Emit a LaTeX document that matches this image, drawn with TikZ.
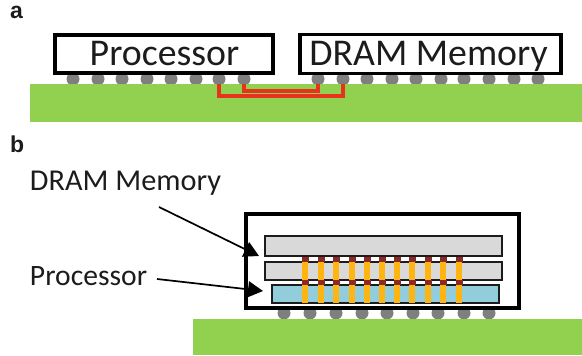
\documentclass[tikz,border=0pt]{standalone}
\usepackage{fontspec}
\setmainfont{Carlito}
\newfontfamily\labelfont{Liberation Sans}
\usetikzlibrary{arrows.meta}
\definecolor{boardgreen}{HTML}{92D050}
\definecolor{bumpgray}{HTML}{7F7F7F}
\definecolor{wirered}{HTML}{E5331F}
\definecolor{diegray}{HTML}{D9D9D9}
\definecolor{dieblue}{HTML}{92CDDC}
\definecolor{tsvorange}{HTML}{FFB511}
\definecolor{ubumpred}{HTML}{8C2A2A}
\definecolor{inkdark}{HTML}{1C1C1C}
\tikzset{
  every node/.style={inner sep=0pt,outer sep=0pt},
  board/.style={fill=boardgreen,draw=none,anchor=north west},
  bump/.style={circle,fill=bumpgray,draw=none,minimum size=13pt},
  pkg/.style={draw=black,fill=white,line width=3.2pt,anchor=north west},
  die/.style={draw=inkdark,fill=diegray,line width=2pt,anchor=north west},
  logicdie/.style={draw=inkdark,fill=dieblue,line width=2pt,anchor=north west},
  wire/.style={draw=wirered,line width=3.2pt,line join=miter},
  ptr/.style={draw=black,line width=1.7pt,-{Triangle[length=15pt,width=16pt]}},
  panel/.style={font=\labelfont\bfseries\fontsize{23}{23}\selectfont,text=inkdark,anchor=base west},
  bigtext/.style={font=\fontsize{37.8}{38}\selectfont,text=inkdark,anchor=base},
  smalltext/.style={font=\fontsize{30.3}{31}\selectfont,text=inkdark,anchor=base west},
  smallertext/.style={font=\fontsize{29.6}{31}\selectfont,text=inkdark,anchor=base west},
}
\begin{document}
\begin{tikzpicture}[x=1pt,y=-1pt]
\useasboundingbox (0,0) rectangle (582,356);
\node[panel] (labela) at (10,19) {a};
\node[panel] (labelb) at (10,152) {b};
% panel a
\foreach \i/\x in {1/73,2/98,3/122,4/147,5/171,6/196,7/219,8/244}
  \node[bump] (pa\i) at (\x,79) {};
\foreach \i/\x in {1/318,2/343,3/367,4/392,5/416,6/441,7/464,8/489,9/514,10/538}
  \node[bump] (da\i) at (\x,79) {};
\node[board,minimum width=552pt,minimum height=38pt] (boarda) at (30,84) {};
\node[pkg,minimum width=218pt,minimum height=38pt] (proca) at (55,35) {};
\node[pkg,minimum width=261pt,minimum height=39pt] (drama) at (300,34.5) {};
\node[bigtext] (proctext) at (164.5,65) {Processor};
\node[bigtext] (dramtext) at (428.5,65) {DRAM Memory};
\draw[wire] (pa7.center |- boarda.north) -- ++(0,12) -| (da2.center |- boarda.north);
\draw[wire] (pa8.center |- boarda.north) -- ++(0,7) -| (da1.center |- boarda.north);
% panel b
\foreach \i/\x in {1/284,2/310,3/336,4/362,5/387,6/413,7/438,8/464,9/489}
  \node[bump] (bb\i) at (\x,313) {};
\node[board,minimum width=389pt,minimum height=36pt] (boardb) at (193,319) {};
\node[pkg,minimum width=273pt,minimum height=94pt] (pkgb) at (246,214) {};
\node[die,minimum width=237pt,minimum height=20pt] (dieone) at (265,236) {};
\node[die,minimum width=237pt,minimum height=18pt] (dietwo) at (265,262) {};
\node[logicdie,minimum width=227pt,minimum height=18pt] (dieproc) at (272,285) {};
\foreach \x in {305,321,336,352,367,382,397,412,428,443,459}{
  \draw[tsvorange,line width=5.4pt] (\x,262) -- (\x,280);
  \draw[tsvorange,line width=5.4pt] (\x,285) -- (\x,303);
  \draw[ubumpred,line width=7pt] (\x,256.5) -- (\x,262);
  \draw[ubumpred,line width=7pt] (\x,280) -- (\x,285);
}
\node[smalltext] (dramlabel) at (30,190) {DRAM Memory};
\node[smallertext] (proclabel) at (30,285) {Processor};
\coordinate (dramfrom) at (159,207);
\coordinate (dramto) at (259,256);
\coordinate (procfrom) at (157,279);
\coordinate (procto) at (263,291);
\draw[ptr] (dramfrom) -- (dramto);
\draw[ptr] (procfrom) -- (procto);
\end{tikzpicture}
\end{document}
